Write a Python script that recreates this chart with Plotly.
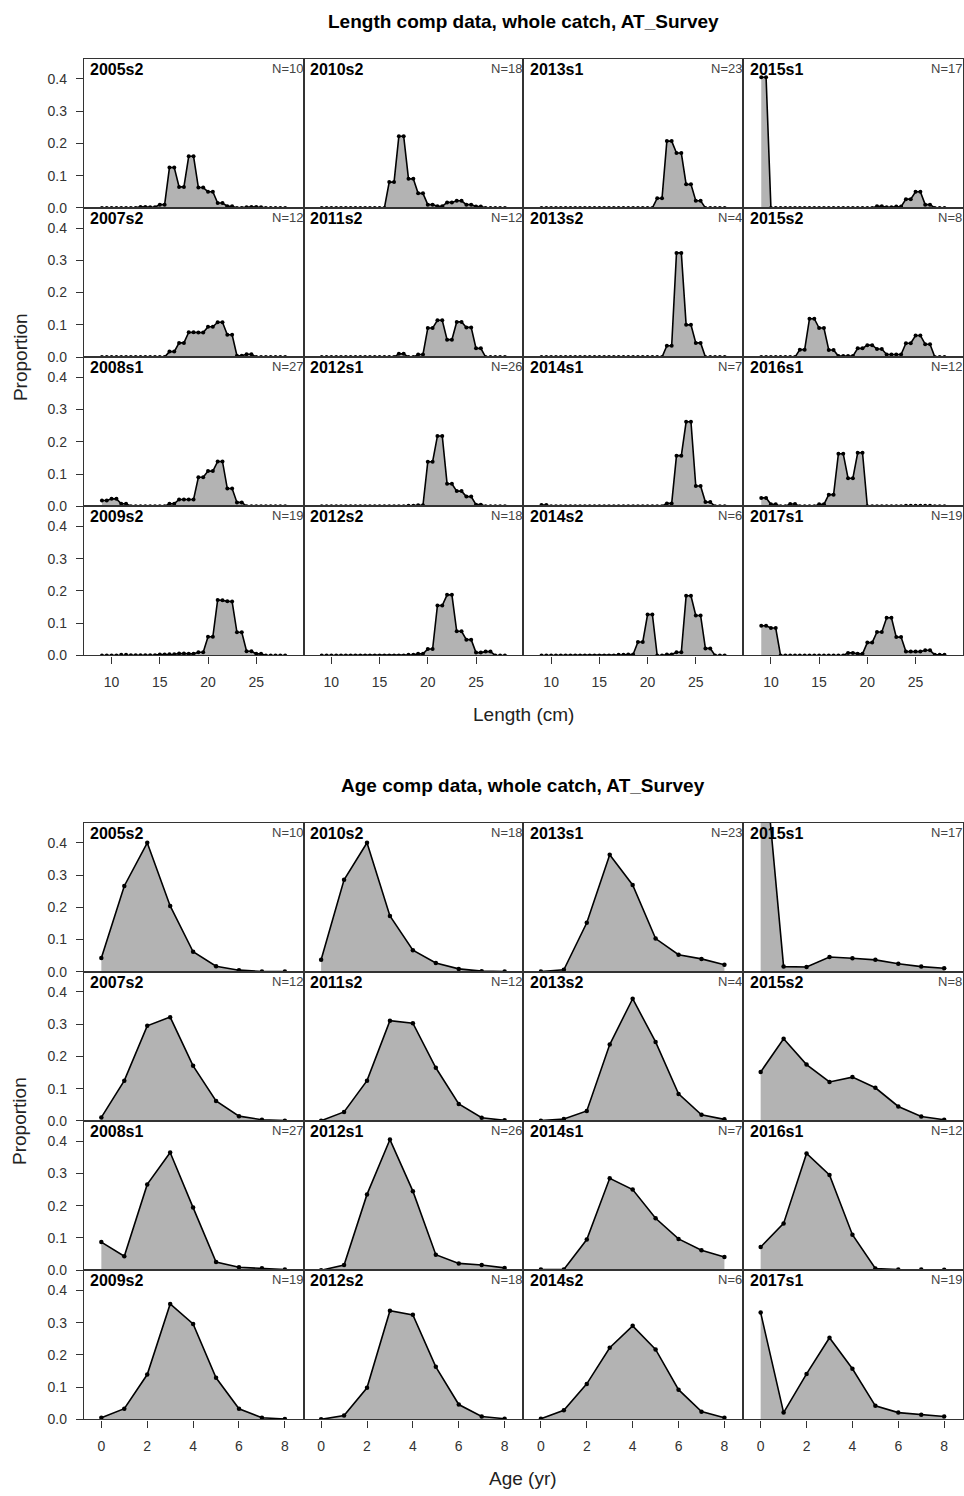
import plotly.graph_objects as go

# ---------------- DATA ----------------
length_bins = [9, 9.5, 10, 10.5, 11, 11.5, 12, 12.5, 13, 13.5,
               14, 14.5, 15, 15.5, 16, 16.5, 17, 17.5, 18, 18.5,
               19, 19.5, 20, 20.5, 21, 21.5, 22, 22.5, 23, 23.5,
               24, 24.5, 25, 25.5, 26, 26.5, 27, 27.5, 28]
age_bins = [0, 1, 2, 3, 4, 5, 6, 7, 8]

# panel order: column by column (top to bottom)
panel_names = ["2005s2", "2007s2", "2008s1", "2009s2",
               "2010s2", "2011s2", "2012s1", "2012s2",
               "2013s1", "2013s2", "2014s1", "2014s2",
               "2015s1", "2015s2", "2016s1", "2017s1"]
panel_N = [10, 12, 27, 19, 18, 12, 26, 18, 23, 4, 7, 6, 17, 8, 12, 19]

len_2005s2 = [0, 0, 0, 0, 0, 0, 0, 0, 0.003, 0.003,
              0.002, 0.002, 0.01, 0.01, 0.125, 0.125, 0.065, 0.065, 0.16, 0.16,
              0.063, 0.063, 0.05, 0.05, 0.015, 0.015, 0.005, 0.005, 0, 0,
              0.002, 0.003, 0.003, 0.002, 0, 0, 0, 0, 0]
len_2007s2 = [0, 0, 0, 0, 0, 0, 0, 0, 0, 0,
              0, 0, 0, 0, 0.017, 0.017, 0.044, 0.044, 0.077, 0.077,
              0.076, 0.076, 0.094, 0.094, 0.108, 0.108, 0.069, 0.069, 0.004, 0.004,
              0.009, 0.009, 0, 0, 0, 0, 0, 0, 0]
len_2008s1 = [0.018, 0.018, 0.023, 0.023, 0.008, 0.008, 0, 0, 0, 0,
              0, 0, 0, 0, 0.008, 0.008, 0.021, 0.021, 0.021, 0.021,
              0.09, 0.09, 0.109, 0.109, 0.139, 0.139, 0.055, 0.055, 0.012, 0.012,
              0, 0, 0, 0, 0, 0, 0, 0, 0]
len_2009s2 = [0, 0, 0, 0, 0.002, 0.002, 0.001, 0.001, 0.001, 0.001,
              0.001, 0.001, 0.003, 0.003, 0.004, 0.004, 0.006, 0.006, 0.005, 0.005,
              0.01, 0.01, 0.058, 0.058, 0.172, 0.171, 0.168, 0.167, 0.072, 0.072,
              0.013, 0.013, 0.005, 0.005, 0, 0, 0, 0, 0]
len_2010s2 = [0, 0, 0, 0, 0, 0, 0, 0, 0, 0,
              0, 0, 0, 0, 0.08, 0.08, 0.222, 0.222, 0.09, 0.09,
              0.045, 0.045, 0.01, 0.01, 0.005, 0.005, 0.017, 0.017, 0.022, 0.022,
              0.01, 0.01, 0.004, 0.004, 0, 0, 0, 0, 0]
len_2011s2 = [0, 0, 0, 0, 0, 0, 0, 0, 0, 0,
              0, 0, 0, 0, 0, 0, 0.01, 0.01, 0, 0,
              0.008, 0.008, 0.09, 0.09, 0.114, 0.114, 0.054, 0.054, 0.109, 0.109,
              0.092, 0.092, 0.027, 0.027, 0, 0, 0, 0, 0]
len_2012s1 = [0, 0, 0, 0, 0, 0, 0, 0, 0, 0,
              0, 0, 0, 0, 0, 0, 0, 0, 0.002, 0.002,
              0.003, 0.003, 0.138, 0.138, 0.218, 0.218, 0.07, 0.07, 0.047, 0.047,
              0.03, 0.03, 0.005, 0.005, 0, 0, 0, 0, 0]
len_2012s2 = [0, 0, 0, 0, 0, 0, 0, 0, 0, 0,
              0, 0, 0, 0, 0, 0, 0, 0, 0.002, 0.002,
              0.005, 0.005, 0.02, 0.02, 0.155, 0.155, 0.188, 0.188, 0.075, 0.075,
              0.049, 0.049, 0.009, 0.009, 0.012, 0.012, 0, 0, 0]
len_2013s1 = [0, 0, 0, 0, 0, 0, 0, 0, 0, 0,
              0, 0, 0, 0, 0, 0, 0, 0, 0, 0,
              0, 0, 0, 0, 0.03, 0.03, 0.207, 0.207, 0.17, 0.17,
              0.073, 0.073, 0.022, 0.022, 0, 0, 0, 0, 0]
len_2013s2 = [0, 0, 0, 0, 0, 0, 0, 0, 0, 0,
              0, 0, 0, 0, 0, 0, 0, 0, 0, 0,
              0, 0, 0, 0, 0, 0, 0.035, 0.035, 0.323, 0.323,
              0.1, 0.1, 0.044, 0.044, 0, 0, 0, 0, 0]
len_2014s1 = [0.004, 0.004, 0, 0, 0, 0, 0, 0, 0, 0,
              0, 0, 0, 0, 0, 0, 0, 0, 0, 0,
              0, 0, 0, 0, 0, 0, 0.009, 0.009, 0.157, 0.157,
              0.262, 0.262, 0.063, 0.063, 0.013, 0.013, 0, 0, 0]
len_2014s2 = [0, 0, 0, 0, 0, 0, 0, 0, 0, 0,
              0, 0, 0, 0, 0, 0, 0.002, 0.002, 0.003, 0.003,
              0.042, 0.042, 0.127, 0.127, 0, 0, 0.003, 0.003, 0.01, 0.01,
              0.185, 0.185, 0.124, 0.124, 0.022, 0.022, 0, 0, 0]
len_2015s1 = [0.405, 0.405, 0, 0, 0, 0, 0, 0, 0, 0,
              0, 0, 0, 0, 0, 0, 0, 0, 0, 0,
              0, 0, 0, 0, 0.005, 0.005, 0.002, 0.002, 0.004, 0.004,
              0.027, 0.027, 0.05, 0.05, 0.01, 0.01, 0, 0, 0]
len_2015s2 = [0, 0, 0, 0, 0, 0, 0, 0, 0.023, 0.023,
              0.119, 0.119, 0.09, 0.09, 0.022, 0.022, 0.003, 0.003, 0.003, 0.003,
              0.027, 0.027, 0.037, 0.037, 0.025, 0.025, 0.008, 0.008, 0.008, 0.008,
              0.043, 0.043, 0.067, 0.067, 0.04, 0.04, 0, 0, 0]
len_2016s1 = [0.026, 0.026, 0.006, 0.006, 0, 0, 0.007, 0.007, 0, 0,
              0, 0, 0.006, 0.006, 0.036, 0.036, 0.163, 0.163, 0.087, 0.087,
              0.166, 0.166, 0, 0, 0, 0, 0, 0, 0, 0,
              0.002, 0.002, 0.002, 0.002, 0.002, 0.002, 0, 0, 0]
len_2017s1 = [0.092, 0.092, 0.085, 0.085, 0, 0, 0, 0, 0, 0,
              0, 0, 0, 0, 0, 0, 0, 0, 0.008, 0.008,
              0.005, 0.005, 0.04, 0.04, 0.073, 0.073, 0.117, 0.117, 0.057, 0.057,
              0.012, 0.012, 0.012, 0.012, 0.016, 0.016, 0.002, 0.002, 0.002]

age_2005s2 = [0.043, 0.266, 0.4, 0.204, 0.062, 0.017, 0.005, 0.001, 0.001]
age_2007s2 = [0.011, 0.125, 0.295, 0.322, 0.171, 0.062, 0.015, 0.004, 0.001]
age_2008s1 = [0.087, 0.043, 0.266, 0.365, 0.194, 0.025, 0.009, 0.006, 0.002]
age_2009s2 = [0.005, 0.033, 0.139, 0.358, 0.296, 0.129, 0.033, 0.005, 0.001]
age_2010s2 = [0.037, 0.285, 0.4, 0.173, 0.067, 0.027, 0.009, 0.002, 0.001]
age_2011s2 = [0.001, 0.028, 0.125, 0.311, 0.303, 0.165, 0.053, 0.01, 0.002]
age_2012s1 = [0.0, 0.016, 0.235, 0.405, 0.245, 0.048, 0.021, 0.016, 0.007]
age_2012s2 = [0.0, 0.012, 0.098, 0.337, 0.324, 0.163, 0.046, 0.009, 0.002]
age_2013s1 = [0.001, 0.006, 0.152, 0.363, 0.269, 0.103, 0.053, 0.04, 0.022]
age_2013s2 = [0.001, 0.006, 0.031, 0.237, 0.379, 0.245, 0.084, 0.019, 0.005]
age_2014s1 = [0.002, 0.002, 0.095, 0.285, 0.25, 0.161, 0.097, 0.062, 0.041]
age_2014s2 = [0.002, 0.028, 0.11, 0.222, 0.29, 0.217, 0.092, 0.024, 0.005]
age_2015s1 = [0.79, 0.016, 0.015, 0.046, 0.042, 0.037, 0.025, 0.016, 0.011]
age_2015s2 = [0.152, 0.255, 0.175, 0.121, 0.136, 0.103, 0.045, 0.014, 0.004]
age_2016s1 = [0.072, 0.145, 0.362, 0.295, 0.11, 0.005, 0.002, 0.002, 0.001]
age_2017s1 = [0.331, 0.021, 0.141, 0.253, 0.157, 0.042, 0.021, 0.014, 0.009]

length_series = [len_2005s2, len_2007s2, len_2008s1, len_2009s2,
                 len_2010s2, len_2011s2, len_2012s1, len_2012s2,
                 len_2013s1, len_2013s2, len_2014s1, len_2014s2,
                 len_2015s1, len_2015s2, len_2016s1, len_2017s1]
age_series = [age_2005s2, age_2007s2, age_2008s1, age_2009s2,
              age_2010s2, age_2011s2, age_2012s1, age_2012s2,
              age_2013s1, age_2013s2, age_2014s1, age_2014s2,
              age_2015s1, age_2015s2, age_2016s1, age_2017s1]

length_ticks = [10, 15, 20, 25]
age_ticks = [0, 2, 4, 6, 8]
y_ticks = [0.0, 0.1, 0.2, 0.3, 0.4]

# ---------------- LAYOUT ----------------
W, H = 964, 1496
LEFT, PW, PH = 84, 220, 150
BLOCK_TOPS = [59, 827]
FONT = "Liberation Sans, Arial, sans-serif"
FILL = "#B3B3B3"
BORDER = "#333333"

fig = go.Figure()
layout = dict(width=W, height=H, margin=dict(l=0, r=0, t=0, b=0),
              plot_bgcolor="white", paper_bgcolor="white", showlegend=False,
              font=dict(family=FONT, color="#222"))
annotations = []

blocks = [
    dict(x=length_bins, series=length_series, xr=[7.13, 29.92], ticks=length_ticks,
         msize=4, title="Length comp data, whole catch, AT_Survey", xtitle="Length (cm)"),
    dict(x=age_bins, series=age_series, xr=[-0.76, 8.82], ticks=age_ticks,
         msize=4.5, title="Age comp data, whole catch, AT_Survey", xtitle="Age (yr)"),
]

idx = 0
for b, blk in enumerate(blocks):
    top = BLOCK_TOPS[b]
    for p in range(16):
        c, r = p // 4, p % 4
        idx += 1
        x0 = LEFT + c * PW
        y0 = top + r * PH
        xa = "xaxis" if idx == 1 else f"xaxis{idx}"
        ya = "yaxis" if idx == 1 else f"yaxis{idx}"
        xs = "x" if idx == 1 else f"x{idx}"
        ys = "y" if idx == 1 else f"y{idx}"
        bottom = (r == 3)
        leftcol = (c == 0)
        layout[xa] = dict(domain=[x0 / W, min((x0 + PW) / W, 1.0)], anchor=ys,
                          range=blk["xr"], showgrid=False, zeroline=False,
                          showline=True, mirror=True, linecolor=BORDER, linewidth=1.3,
                          tickvals=blk["ticks"] if bottom else [],
                          ticks="outside" if bottom else "", ticklen=7, tickwidth=1.2,
                          tickcolor=BORDER, showticklabels=bottom,
                          ticklabelstandoff=7,
                          tickfont=dict(size=14, color="#333", family=FONT))
        layout[ya] = dict(domain=[1 - (y0 + PH) / H, 1 - y0 / H], anchor=xs,
                          range=[0, 0.4626], showgrid=False, zeroline=False,
                          showline=True, mirror=True, linecolor=BORDER, linewidth=1.3,
                          tickvals=y_ticks if leftcol else [], tickformat=".1f",
                          ticks="outside" if leftcol else "", ticklen=7, tickwidth=1.2,
                          tickcolor=BORDER, showticklabels=leftcol,
                          ticklabelstandoff=6,
                          tickfont=dict(size=14, color="#333", family=FONT))
        fig.add_trace(go.Scatter(
            x=blk["x"], y=blk["series"][p], xaxis=xs, yaxis=ys,
            mode="lines+markers", fill="tozeroy", fillcolor=FILL,
            line=dict(color="black", width=1.6),
            marker=dict(color="black", size=blk["msize"]),
            hoverinfo="skip", showlegend=False))
        annotations.append(dict(text=f"<b>{panel_names[p]}</b>", xref=f"{xs} domain", yref=f"{ys} domain",
                                x=0.02, y=1.0, xanchor="left", yanchor="top", showarrow=False,
                                font=dict(size=16, color="black", family=FONT)))
        annotations.append(dict(text=f"N={panel_N[p]}", xref=f"{xs} domain", yref=f"{ys} domain",
                                x=1.0, y=1.0, xanchor="right", yanchor="top", showarrow=False,
                                xshift=1, font=dict(size=13, color="#444", family=FONT)))
    annotations.append(dict(text=f"<b>{blk['title']}</b>", xref="paper", yref="paper",
                            x=(LEFT + 2 * PW) / W, y=1 - (top - 37) / H, xanchor="center", yanchor="middle",
                            showarrow=False, font=dict(size=19, color="black", family=FONT)))
    annotations.append(dict(text=blk["xtitle"], xref="paper", yref="paper",
                            x=(LEFT + 2 * PW) / W, y=1 - (top + 4 * PH + 59) / H, xanchor="center",
                            yanchor="middle", showarrow=False,
                            font=dict(size=19, color="#222", family=FONT)))
    annotations.append(dict(text="Proportion", xref="paper", yref="paper",
                            x=20 / W, y=1 - (top + 2 * PH) / H, xanchor="center", yanchor="middle",
                            textangle=-90, showarrow=False,
                            font=dict(size=19, color="#222", family=FONT)))

layout["annotations"] = annotations
fig.update_layout(**layout)
fig.write_html("out.html")
